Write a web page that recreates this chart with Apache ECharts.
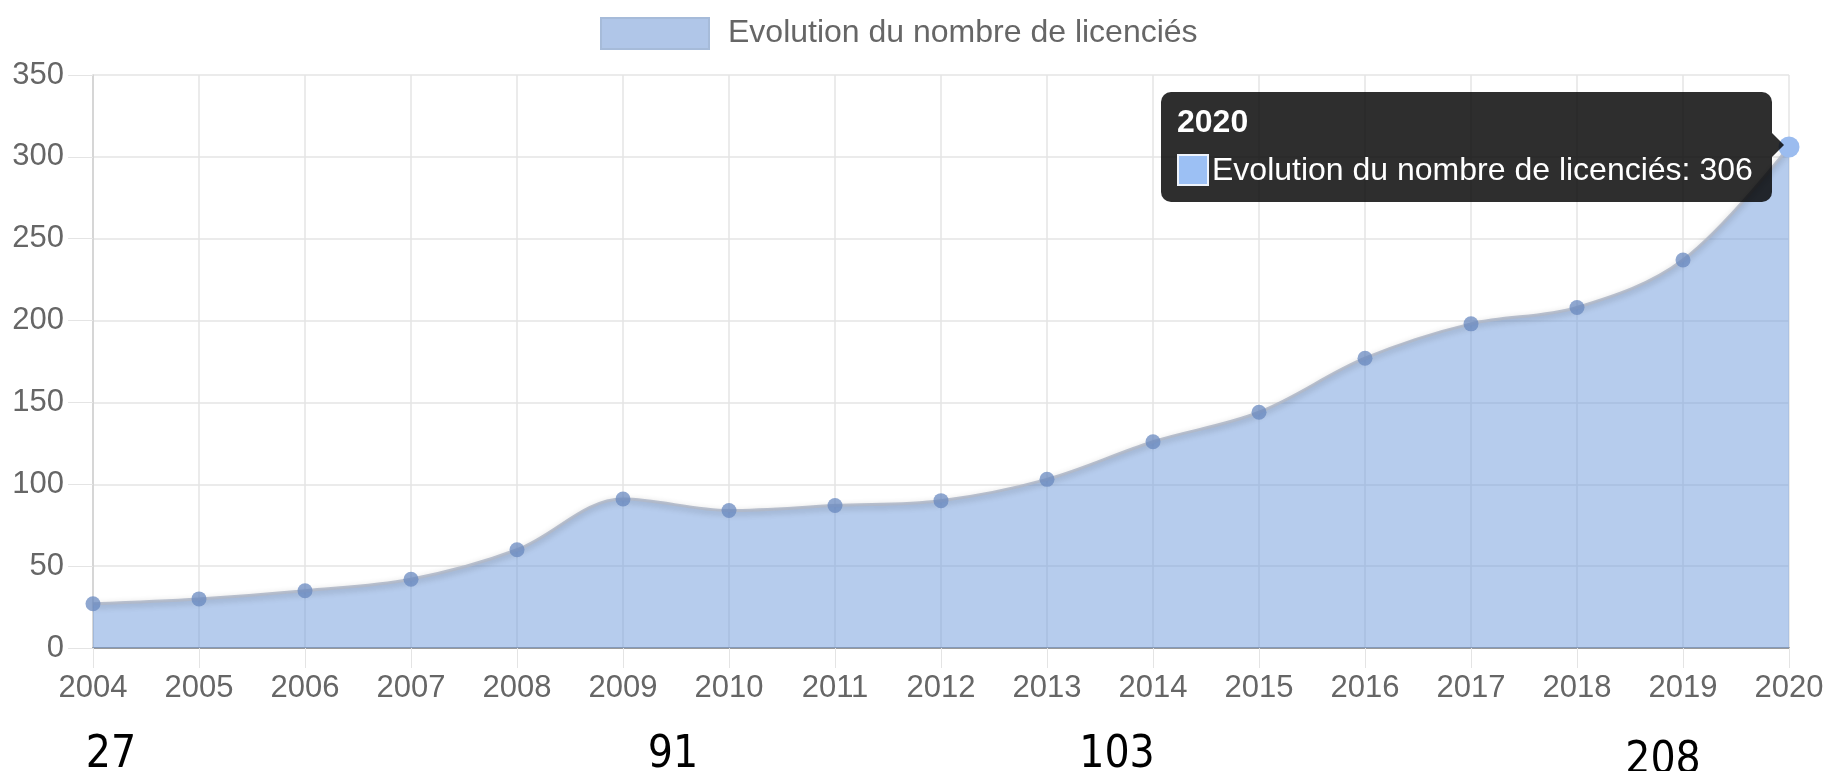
<!DOCTYPE html>
<html>
<head>
<meta charset="utf-8">
<title>Evolution du nombre de licenciés</title>
<script src="https://cdn.jsdelivr.net/npm/echarts@6/dist/echarts.min.js"></script>
<style>
  html, body {
    margin: 0;
    padding: 0;
    background: #fff;
  }
  #data-chart {
    width: 1830px;
    height: 771px;
  }
</style>
</head>
<body>
<div id="data-chart"></div>
<script>
// data
const years = ['2004', '2005', '2006', '2007', '2008', '2009', '2010', '2011', '2012',
  '2013', '2014', '2015', '2016', '2017', '2018', '2019', '2020']
const licencies = [27, 30, 35, 42, 60, 91, 84, 87, 90, 103, 126, 144, 177, 198, 208, 237, 306]
const seriesName = 'Evolution du nombre de licenciés'
// the numbers written under the chart
const annotYears = ['2004', '2009', '2013', '2018']
const annotValues = ['27', '91', '103', '208']
const tipIndex = 16

const font = "'Liberation Sans', Arial, Helvetica, sans-serif"
const gridColor = '#e4e4e4'

// small right shifts of the hand-placed numbers (px)
const annotStyle = {
  a: { padding: [0, 0, 0, 36] },
  b: { padding: [0, 0, 0, 100] },
  c: { padding: [0, 0, 0, 140] },
  d: { padding: [6, 0, 0, 172] }
}
const annotKeys = ['a', 'b', 'c', 'd']

const chart = echarts.init(document.getElementById('data-chart'))

let option = {
  animation: false,
  textStyle: { fontFamily: font },
  legend: {
    left: 595,
    top: 12,
    icon: 'rect',
    itemWidth: 108,
    itemHeight: 31,
    textStyle: {
      fontSize: 32,
      color: '#666',
      padding: [0, 0, 0, 14]
    },
    data: [{
      name: seriesName,
      itemStyle: { color: '#b0c6e8', borderColor: '#a6bbd9', borderWidth: 2 }
    }]
  },
  tooltip: {
    trigger: 'item',
    alwaysShowContent: true,
    transitionDuration: 0,
    backgroundColor: 'rgba(0,0,0,0.82)',
    borderWidth: 0,
    padding: [10, 19, 14, 16],
    extraCssText: 'border-radius:10px;box-shadow:none;',
    textStyle: { color: '#fff', fontSize: 32, fontFamily: font },
    position: function (pos, params, dom, rect, size) {
      return [pos[0] - size.contentSize[0] - 17, pos[1] - size.contentSize[1] / 2]
    },
    formatter: function (p) {
      return '<div style="position:relative">' +
        '<div style="font-weight:bold;line-height:38px;margin-bottom:10px">' + p.name + '</div>' +
        '<div style="line-height:38px">' +
        '<span style="display:inline-block;width:32px;height:32px;box-sizing:border-box;' +
        'background:#9cc0f4;border:2px solid #eef3fb;vertical-align:-6px;margin-right:3px"></span>' +
        p.seriesName + ': ' + p.value + '</div>' +
        '<div style="position:absolute;right:-31px;top:50%;margin-top:-12px;width:0;height:0;' +
        'border-top:12px solid transparent;border-bottom:12px solid transparent;' +
        'border-left:12px solid rgba(0,0,0,0.82)"></div>' +
        '</div>'
    }
  },
  grid: {
    left: 93,
    right: 41,
    top: 75,
    bottom: 123,
    outerBoundsMode: 'none'
  },
  xAxis: [
    {
      type: 'category',
      boundaryGap: false,
      data: years,
      axisLine: { lineStyle: { color: '#9a9a9a', width: 2 } },
      axisTick: { show: true, length: 20, lineStyle: { color: gridColor } },
      axisLabel: { interval: 0, fontSize: 31, color: '#666', margin: 25 },
      splitLine: { show: true, lineStyle: { color: gridColor, width: 1.5 } }
    },
    {
      type: 'category',
      boundaryGap: false,
      position: 'bottom',
      offset: 78,
      data: years,
      axisLine: { show: false },
      axisTick: { show: false },
      splitLine: { show: false },
      axisLabel: {
        interval: 0,
        margin: 8,
        fontSize: 44,
        color: '#000',
        fontFamily: "'Liberation Sans Narrow', 'DejaVu Sans Condensed', sans-serif",
        rich: annotStyle,
        formatter: function (value) {
          const i = annotYears.indexOf(value)
          if (i < 0) return ''
          return '{' + annotKeys[i] + '|' + annotValues[i] + '}'
        }
      }
    }
  ],
  yAxis: [
    {
      type: 'value',
      min: 0,
      max: 350,
      interval: 50,
      axisLine: { show: true, lineStyle: { color: '#cfcfcf', width: 1.5 } },
      axisTick: { show: true, length: 25, lineStyle: { color: gridColor } },
      axisLabel: { fontSize: 31, color: '#666', margin: 29 },
      splitLine: { show: true, lineStyle: { color: gridColor, width: 1.5 } }
    }
  ],
  series: [
    {
      name: seriesName,
      type: 'line',
      data: licencies,
      smooth: 0.35,
      symbol: 'circle',
      symbolSize: 15,
      itemStyle: { color: 'rgba(105,138,192,0.75)' },
      lineStyle: {
        color: 'rgba(160,168,182,0.9)',
        width: 3,
        shadowColor: 'rgba(0,0,0,0.25)',
        shadowBlur: 6,
        shadowOffsetY: 2
      },
      areaStyle: { color: 'rgba(100,140,200,0.5)', opacity: 1 },
      emphasis: {
        scale: 1.4,
        itemStyle: { color: '#9bbcef' }
      }
    }
  ]
}
chart.setOption(option)

chart.dispatchAction({ type: 'highlight', seriesIndex: 0, dataIndex: tipIndex })
chart.dispatchAction({ type: 'showTip', seriesIndex: 0, dataIndex: tipIndex })
</script>
</body>
</html>
